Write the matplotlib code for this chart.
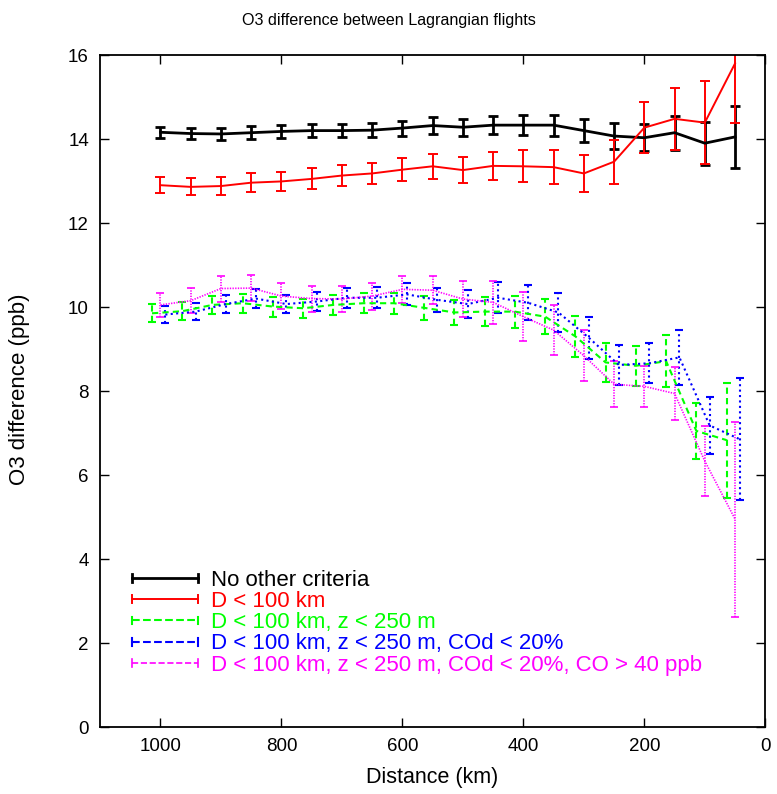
import matplotlib
matplotlib.use('Agg')
import matplotlib.pyplot as plt
from matplotlib.legend_handler import HandlerBase
from matplotlib.lines import Line2D

plt.rcParams['font.family'] = ['Liberation Sans', 'DejaVu Sans']

# ---------------- data ----------------
distance = [1000, 950, 900, 850, 800, 750, 700, 650, 600, 550,
            500, 450, 400, 350, 300, 250, 200, 150, 100, 50]

black_y = [14.16, 14.13, 14.12, 14.15, 14.18, 14.20, 14.20, 14.21, 14.26, 14.32,
           14.28, 14.33, 14.33, 14.33, 14.20, 14.07, 14.03, 14.15, 13.90, 14.05]
black_err = [0.13, 0.13, 0.15, 0.15, 0.15, 0.16, 0.16, 0.17, 0.18, 0.20,
             0.20, 0.22, 0.23, 0.25, 0.27, 0.30, 0.32, 0.40, 0.51, 0.73]

red_y = [12.90, 12.86, 12.88, 12.96, 12.99, 13.05, 13.13, 13.18, 13.27, 13.35,
         13.26, 13.36, 13.35, 13.33, 13.18, 13.46, 14.27, 14.48, 14.39, 15.80]
red_err = [0.19, 0.20, 0.21, 0.22, 0.23, 0.25, 0.25, 0.25, 0.27, 0.30,
           0.31, 0.34, 0.38, 0.41, 0.45, 0.52, 0.61, 0.74, 0.99, 1.43]

green_y = [9.85, 9.90, 10.05, 10.09, 10.01, 9.97, 10.05, 10.09, 10.09, 9.98,
           9.87, 9.89, 9.89, 9.77, 9.30, 8.68, 8.60, 8.71, 7.05, 6.83]
green_err = [0.21, 0.21, 0.22, 0.23, 0.24, 0.22, 0.23, 0.24, 0.25, 0.29,
             0.29, 0.35, 0.38, 0.42, 0.48, 0.46, 0.48, 0.62, 0.67, 1.37]

blue_y = [9.82, 9.89, 10.07, 10.20, 10.07, 10.13, 10.22, 10.22, 10.30, 10.17,
          10.07, 10.22, 10.10, 9.87, 9.27, 8.62, 8.66, 8.80, 7.18, 6.85]
blue_err = [0.20, 0.21, 0.22, 0.23, 0.22, 0.23, 0.24, 0.25, 0.26, 0.28,
            0.33, 0.37, 0.42, 0.46, 0.50, 0.48, 0.48, 0.65, 0.68, 1.45]

mag_y = [10.05, 10.15, 10.44, 10.45, 10.26, 10.20, 10.19, 10.26, 10.42, 10.40,
         10.19, 10.11, 9.77, 9.45, 8.84, 8.16, 8.11, 7.94, 6.33, 4.95]
mag_err = [0.29, 0.30, 0.31, 0.31, 0.31, 0.31, 0.32, 0.32, 0.32, 0.33,
           0.42, 0.52, 0.58, 0.60, 0.61, 0.55, 0.49, 0.64, 0.83, 2.32]

# bin-centre shifts of the filtered series (km), as seen in the picture
green_shift = 14
blue_shift = -8
mag_shift = 0

labels = ["No other criteria",
          "D < 100 km",
          "D < 100 km, z < 250 m",
          "D < 100 km, z < 250 m, COd < 20%",
          "D < 100 km, z < 250 m, COd < 20%, CO > 40 ppb"]

x_ticks = [1000, 800, 600, 400, 200, 0]
y_ticks = [0, 2, 4, 6, 8, 10, 12, 14, 16]

# ---------------- figure ----------------
W, H = 777, 794
fig = plt.figure(figsize=(W / 100, H / 100), dpi=100)
ax = fig.add_axes([100 / W, 1 - 727 / H, (765.3 - 100) / W, (727 - 55) / H])

series = [
    (distance, black_y, black_err, 'black', 2.0, '-', 3.3),
    (distance, red_y, red_err, '#ff0000', 1.4, '-', 3.3),
    ([d + green_shift for d in distance], green_y, green_err, '#00ff00', 1.5, (0, (3, 2)), 2.7),
    ([d + blue_shift for d in distance], blue_y, blue_err, '#0000ff', 1.5, (0, (1, 1.6)), 2.7),
    ([d + mag_shift for d in distance], mag_y, mag_err, '#ff00ff', 1.2, (0, (0.8, 0.8)), 2.7),
]

handles = []
for (xs, ys, es, c, lw, ls, cs), lab in zip(series, labels):
    cont = ax.errorbar(xs, ys, yerr=es, color=c, lw=lw, ls=ls, capsize=cs,
                       capthick=lw, elinewidth=lw)
    for bl in cont[2]:
        bl.set_linestyle(ls)
    handles.append(Line2D([], [], color=c, lw=lw, ls=ls, label=lab))


class CapHandler(HandlerBase):
    def create_artists(self, legend, orig_handle, xdescent, ydescent,
                       width, height, fontsize, trans):
        y = height / 2 - ydescent
        x0 = -xdescent
        x1 = width - xdescent
        h = height * 0.25
        c = orig_handle.get_color()
        lw = orig_handle.get_linewidth()
        ls = orig_handle.get_linestyle()
        line = Line2D([x0, x1], [y, y], color=c, lw=lw, ls=ls)
        cap1 = Line2D([x0, x0], [y - h, y + h], color=c, lw=lw)
        cap2 = Line2D([x1, x1], [y - h, y + h], color=c, lw=lw)
        for a in (line, cap1, cap2):
            a.set_transform(trans)
        return [line, cap1, cap2]


fs = 16
fpx = fs * 100 / 72
leg = ax.legend(handles=handles, handler_map={Line2D: CapHandler()},
                loc='upper left', bbox_to_anchor=(131.7 / W, 1 - 569.5 / H),
                bbox_transform=fig.transFigure, frameon=False,
                borderpad=0, borderaxespad=0, fontsize=fs,
                handlelength=66 / fpx, handletextpad=13 / fpx,
                labelspacing=0.015)
for t, h in zip(leg.get_texts(), handles):
    t.set_color(h.get_color())

ax.set_xlim(1100, 0)
ax.set_ylim(0, 16)
ax.set_xticks(x_ticks)
ax.set_yticks(y_ticks)
ax.tick_params(direction='in', length=6.5, width=1, top=True, right=True,
               labelsize=13.5)
ax.tick_params(axis='x', pad=8)
ax.tick_params(axis='y', pad=8)
for s in ax.spines.values():
    s.set_linewidth(1.3)

fig.text(0.5, 1 - 20 / H, "O3 difference between Lagrangian flights",
         ha='center', va='center', fontsize=11.6)
fig.text(432 / W, 1 - 778 / H, "Distance (km)",
         ha='center', va='center', fontsize=15.5)
fig.text(20 / W, 1 - 389 / H, "O3 difference (ppb)", rotation=90,
         ha='center', va='center', fontsize=16)

fig.savefig('out.png', dpi=100)
